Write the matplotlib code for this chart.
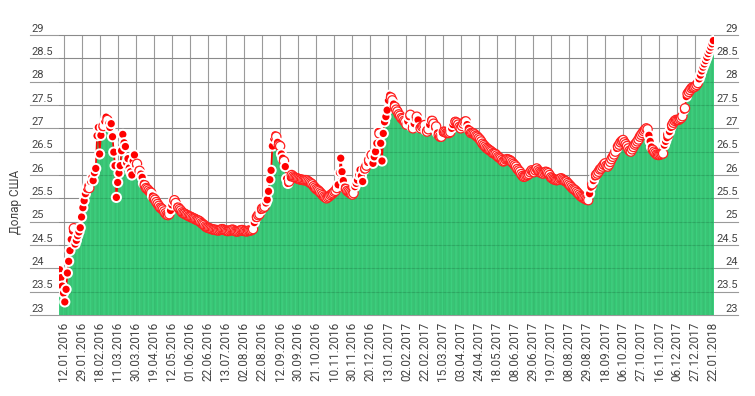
import matplotlib.pyplot as plt
import numpy as np

plt.rcParams['font.family'] = ['Roboto', 'DejaVu Sans']

# курс долара США, щоденні значення 12.01.2016 - 22.01.2018
usd = [
    23.97, 23.8, 23.62, 23.47, 23.28, 23.55, 23.9, 24.15, 24.38, 24.62, 24.8, 24.86, 24.52, 24.6, 24.7, 24.78, 24.87,
    25.1, 25.3, 25.45, 25.6, 25.7, 25.78, 25.72, 25.86, 25.95, 25.88, 26.05, 26.14, 26.84, 27.02,
    26.45, 26.85, 27.02, 27.05, 27.15, 27.24, 27.18, 27.1, 27.02, 27.1, 26.82, 26.49, 26.2, 25.52,
    25.84, 26.04, 26.2, 26.52, 26.87, 26.69, 26.61, 26.26, 26.35, 26.15, 26.07, 26.0, 26.3, 26.43,
    26.21, 26.24, 26.11, 26.09, 26.02, 25.95, 25.82, 25.78, 25.72, 25.7, 25.67, 25.64, 25.62, 25.55,
    25.5, 25.47, 25.42, 25.38, 25.34, 25.3, 25.28, 25.26, 25.22, 25.18, 25.15, 25.14, 25.16, 25.24,
    25.36, 25.44, 25.46, 25.4, 25.33, 25.3, 25.27, 25.24, 25.2, 25.18, 25.17, 25.15, 25.14, 25.12,
    25.11, 25.1, 25.08, 25.07, 25.06, 25.04, 25.03, 25.02, 25.0, 24.97, 24.95, 24.93, 24.9, 24.88,
    24.87, 24.86, 24.85, 24.84, 24.83, 24.83, 24.82, 24.82, 24.81, 24.82, 24.83, 24.84, 24.83, 24.82,
    24.81, 24.8, 24.8, 24.81, 24.82, 24.83, 24.82, 24.8, 24.79, 24.79, 24.8, 24.81, 24.82, 24.82,
    24.8, 24.8, 24.79, 24.8, 24.81, 24.81, 24.82, 24.84, 24.98, 25.07, 25.1, 25.14, 25.16, 25.24,
    25.28, 25.3, 25.32, 25.4, 25.47, 25.65, 25.9, 26.1, 26.62, 26.78, 26.86, 26.82, 26.7, 26.64,
    26.62, 26.45, 26.36, 26.3, 26.18, 25.92, 25.82, 25.86, 25.94, 26.0, 25.97, 25.95, 25.94, 25.93,
    25.92, 25.91, 25.9, 25.9, 25.89, 25.89, 25.89, 25.88, 25.86, 25.84, 25.82, 25.8, 25.76, 25.73, 25.7,
    25.68, 25.66, 25.63, 25.6, 25.57, 25.54, 25.52, 25.5, 25.52, 25.54, 25.57, 25.59, 25.61, 25.64,
    25.66, 25.72, 25.79, 26.05, 26.36, 26.07, 25.88, 25.74, 25.7, 25.66, 25.64, 25.62, 25.6, 25.58,
    25.61, 25.75, 25.82, 25.89, 26.0, 26.11, 25.98, 25.86, 26.11, 26.14, 26.2, 26.27, 26.32, 26.43,
    26.43, 26.25, 26.39, 26.5, 26.68, 26.93, 26.89, 26.68, 26.3, 26.89, 27.14, 27.25, 27.39, 27.6,
    27.71, 27.66, 27.6, 27.52, 27.46, 27.4, 27.36, 27.3, 27.27, 27.22, 27.2, 27.16, 27.14, 27.08,
    27.15, 27.25, 27.29, 27.04, 27.0, 27.1, 27.2, 27.25, 27.18, 27.02, 27.0, 27.04, 27.05, 27.07,
    26.96, 26.93, 26.98, 27.08, 27.19, 27.16, 27.1, 27.0, 27.04, 26.9, 26.85, 26.82, 26.82, 26.9,
    26.93, 26.92, 26.9, 26.9, 26.9, 26.92, 27.0, 27.08, 27.16, 27.14, 27.12, 27.08, 27.03, 27.0, 27.05,
    27.1, 27.14, 27.15, 27.08, 27.0, 26.94, 26.9, 26.9, 26.89, 26.87, 26.84, 26.82, 26.79, 26.76,
    26.72, 26.67, 26.64, 26.61, 26.58, 26.56, 26.54, 26.52, 26.5, 26.47, 26.46, 26.45, 26.42, 26.39,
    26.37, 26.35, 26.32, 26.29, 26.3, 26.33, 26.34, 26.33, 26.32, 26.3, 26.27, 26.24, 26.21, 26.18,
    26.13, 26.1, 26.07, 26.02, 25.98, 25.96, 25.97, 25.99, 26.0, 26.02, 26.06, 26.1, 26.08, 26.06,
    26.1, 26.14, 26.1, 26.07, 26.05, 26.04, 26.03, 26.05, 26.07, 26.06, 26.04, 26.0, 25.95, 25.93,
    25.91, 25.9, 25.89, 25.89, 25.9, 25.92, 25.93, 25.91, 25.89, 25.87, 25.86, 25.83, 25.8, 25.77,
    25.74, 25.71, 25.69, 25.67, 25.64, 25.61, 25.58, 25.55, 25.53, 25.51, 25.5, 25.48, 25.47, 25.46,
    25.6, 25.74, 25.8, 25.88, 25.96, 26.0, 26.03, 26.07, 26.12, 26.14, 26.18, 26.22, 26.25, 26.2,
    26.18, 26.22, 26.28, 26.34, 26.39, 26.44, 26.5, 26.57, 26.61, 26.65, 26.7, 26.73,
    26.75, 26.7, 26.66, 26.62, 26.57, 26.52, 26.5, 26.55, 26.6, 26.65, 26.68, 26.72, 26.76, 26.82,
    26.86, 26.9, 26.94, 26.97, 27.0, 26.98, 26.85, 26.72, 26.6, 26.54, 26.5, 26.47, 26.44, 26.43,
    26.43, 26.44, 26.45, 26.46, 26.64, 26.72, 26.8, 26.86, 26.93, 27.02, 27.07, 27.12, 27.16, 27.18,
    27.18, 27.18, 27.2, 27.22, 27.26, 27.39, 27.43, 27.68, 27.74, 27.78, 27.82, 27.86, 27.88, 27.88,
    27.9, 27.93, 27.97, 28.06, 28.14, 28.23, 28.31, 28.38, 28.45, 28.52, 28.6, 28.67, 28.74, 28.81, 28.88,
]

date_labels = [
    '12.01.2016', '29.01.2016', '18.02.2016', '11.03.2016', '30.03.2016', '19.04.2016',
    '12.05.2016', '01.06.2016', '22.06.2016', '13.07.2016', '02.08.2016', '22.08.2016',
    '12.09.2016', '30.09.2016', '21.10.2016', '10.11.2016', '30.11.2016', '20.12.2016',
    '13.01.2017', '02.02.2017', '22.02.2017', '15.03.2017', '03.04.2017', '24.04.2017',
    '18.05.2017', '08.06.2017', '29.06.2017', '19.07.2017', '08.08.2017', '29.08.2017',
    '18.09.2017', '06.10.2017', '27.10.2017', '16.11.2017', '06.12.2017', '27.12.2017',
    '22.01.2018',
]

y_ticks = [23, 23.5, 24, 24.5, 25, 25.5, 26, 26.5, 27, 27.5, 28, 28.5, 29]

vals = np.array(usd)
n = len(vals)
x = np.arange(n)
tick_pos = list(range(3, n, 14))[:len(date_labels)]

fig = plt.figure(figsize=(7.55, 3.96), dpi=100)
ax = fig.add_axes([59 / 755, 1 - 315 / 396, 655 / 755, 280 / 396])

# сітка
for t in tick_pos:
    ax.axvline(t, color='#9a9a9a', lw=0.8, zorder=0)
for v in y_ticks:
    ax.plot([-0.044, 1.037], [v, v], transform=ax.get_yaxis_transform(),
            color='#9a9a9a', lw=0.8, clip_on=False, zorder=0)
    # ледь помітна лінія поверх стовпчиків
    ax.axhline(v, color='black', alpha=0.1, lw=0.8, zorder=2)

ax.bar(x, vals, width=1.0, color='#45d887',
       edgecolor='#22b25f', linewidth=0.35, zorder=1, snap=False)
ax.plot(x, vals, color='#ff0000', lw=1.2, zorder=3)

# великий стрибок -> червона точка, інакше біла
d = np.abs(np.diff(vals, prepend=vals[0] - 1))
big = d >= 0.065
face = ['#ff0000' if b else 'white' for b in big]
edge = ['white' if b else '#ff2020' for b in big]
lws = [1.4 if b else 0.9 for b in big]
ax.scatter(x, vals, s=44, facecolors=face, edgecolors=edge, linewidths=lws, zorder=4)

ax.set_xlim(-0.5, n - 0.5)
ax.set_ylim(23, 29)
for s in ax.spines.values():
    s.set_visible(False)
ax.set_yticks([])
ax.set_xticks(tick_pos, date_labels, rotation=90, fontsize=8.5, color='#444444')
ax.tick_params(axis='x', length=0, pad=5)

for v in y_ticks:
    lab = f'{v:g}'
    ax.annotate(lab, xy=(-0.0427, v), xycoords=('axes fraction', 'data'),
                xytext=(0, 2.5), textcoords='offset points',
                ha='left', va='baseline', fontsize=8, color='#444444',
                annotation_clip=False)
    ax.annotate(lab, xy=(1.0366, v), xycoords=('axes fraction', 'data'),
                xytext=(0, 2.5), textcoords='offset points',
                ha='right', va='baseline', fontsize=8, color='#444444',
                annotation_clip=False)

fig.text(15 / 755, 1 - 202 / 396, 'Долар США', rotation=90, ha='center', va='center',
         fontsize=8.5, color='#444444')

fig.savefig('out.png', dpi=100)
